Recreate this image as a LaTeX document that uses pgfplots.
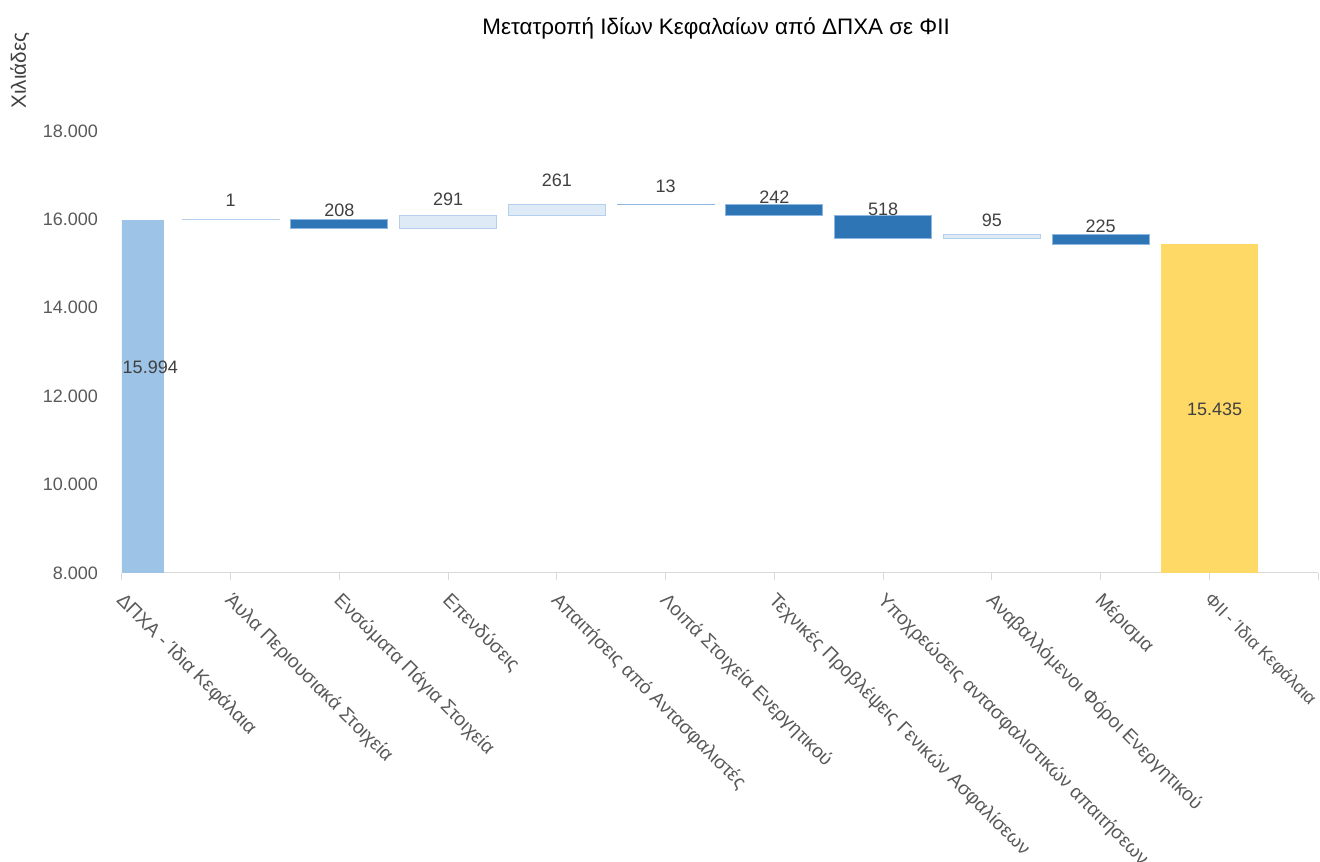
\documentclass[border=0pt]{standalone}
\usepackage{fontspec}
\setmainfont{Liberation Sans}
\usepackage{pgfplots}
\usepackage{pgfplotstable}
\pgfplotsset{compat=1.18}

\definecolor{startc}{HTML}{9DC3E6}
\definecolor{incc}{HTML}{DEEBF7}
\definecolor{incline}{HTML}{B4D0EC}
\definecolor{decc}{HTML}{2E75B6}
\definecolor{decline}{HTML}{8DB6E0}
\definecolor{endc}{HTML}{FFD966}
\definecolor{txtgray}{HTML}{595959}
\definecolor{labgray}{HTML}{404040}

% waterfall: invisible base + visible pieces
\pgfplotstableread{
x base dec inc start end
0  0     0   0   15994 0
1  15994 0   1   0     0
2  15787 208 0   0     0
3  15787 0   291 0     0
4  16078 0   261 0     0
5  16326 13  0   0     0
6  16084 242 0   0     0
7  15566 518 0   0     0
8  15566 0   95  0     0
9  15436 225 0   0     0
10 0     0   0   0     15435
}\wf

% data labels
\pgfplotstableread{
lx    ly    lab
0.26  12644 15.994
1     16441 1
2     16215 208
3     16463 291
4     16893 261
5     16757 13
6     16508 242
7     16237 518
8     15989 95
9     15853 225
10.05 11695 15.435
}\labs

\begin{document}
\begin{tikzpicture}[font=\fontsize{13.5}{16}\selectfont]
\begin{axis}[
  at={(0,0)}, anchor=south west,
  scale only axis, width=897pt, height=331.5pt,
  ybar stacked, bar width=0.892,
  xmin=0, xmax=11, ymin=8000, ymax=18000,
  axis x line*=bottom, axis y line*=left,
  x axis line style={draw=black!15, line width=0.75pt},
  y axis line style={draw=none},
  xtick={0,...,11},
  xticklabels={ΔΠΧΑ - Ίδια Κεφάλαια, Άυλα Περιουσιακά Στοιχεία,
    Ενσώματα Πάγια Στοιχεία, Επενδύσεις, Απαιτήσεις από Αντασφαλιστές,
    Λοιπά Στοιχεία Ενεργητικού, Τεχνικές Προβλέψεις Γενικών Ασφαλίσεων,
    Υποχρεώσεις αντασφαλιστικών απαιτήσεων, Αναβαλλόμενοι Φόροι Ενεργητικού,
    Μέρισμα, {\fontsize{13.2}{15}\selectfont ΦΙΙ - Ίδια Κεφάλαια}, {}},
  ytick={8000,10000,...,18000},
  scaled y ticks=false,
  tick align=outside, major tick length=5pt,
  xtick style={draw=black!15, line width=0.75pt},
  ytick style={draw=none},
  xticklabel style={xshift=3pt, yshift=-7pt, rotate=-45, anchor=north west,
    text=txtgray, inner sep=1pt, font=\fontsize{14.4}{17}\selectfont},
  yticklabel style={text=txtgray, xshift=-9.5pt},
  /pgf/number format/1000 sep={.},
  /pgf/number format/assume math mode=true,
  title={Μετατροπή Ιδίων Κεφαλαίων από ΔΠΧΑ σε ΦΙΙ},
  title style={at={(axis description cs:0.4967,1.214)}, anchor=center,
    font=\fontsize{16.8}{20}\selectfont, text=black},
  ylabel={Χιλιάδες},
  ylabel style={at={(axis description cs:-0.0853,1.137)}, anchor=center,
    text=labgray, font=\fontsize{15.5}{18}\selectfont},
]
\addplot[fill=none, draw=none] table[x=x, y=base] {\wf};
\addplot[fill=decc, draw=decline, line width=0.75pt] table[x=x, y=dec] {\wf};
\addplot[fill=incc, draw=incline, line width=0.75pt] table[x=x, y=inc] {\wf};
\addplot[fill=startc, draw=none, bar width=0.78] table[x=x, y=start] {\wf};
\addplot[fill=endc, draw=none] table[x=x, y=end] {\wf};
\end{axis}
\begin{axis}[
  at={(0,0)}, anchor=south west,
  scale only axis, width=897pt, height=331.5pt,
  xmin=0, xmax=11, ymin=8000, ymax=18000,
  hide axis, clip=false,
]
\addplot[only marks, mark=none, point meta=explicit symbolic,
  nodes near coords,
  nodes near coords style={anchor=center, text=labgray}]
  table[x=lx, y=ly, meta=lab] {\labs};
\end{axis}
\pgfresetboundingbox
\path (-91.5pt,-216.75pt) rectangle (898.5pt,429.75pt);
\end{tikzpicture}
\end{document}
